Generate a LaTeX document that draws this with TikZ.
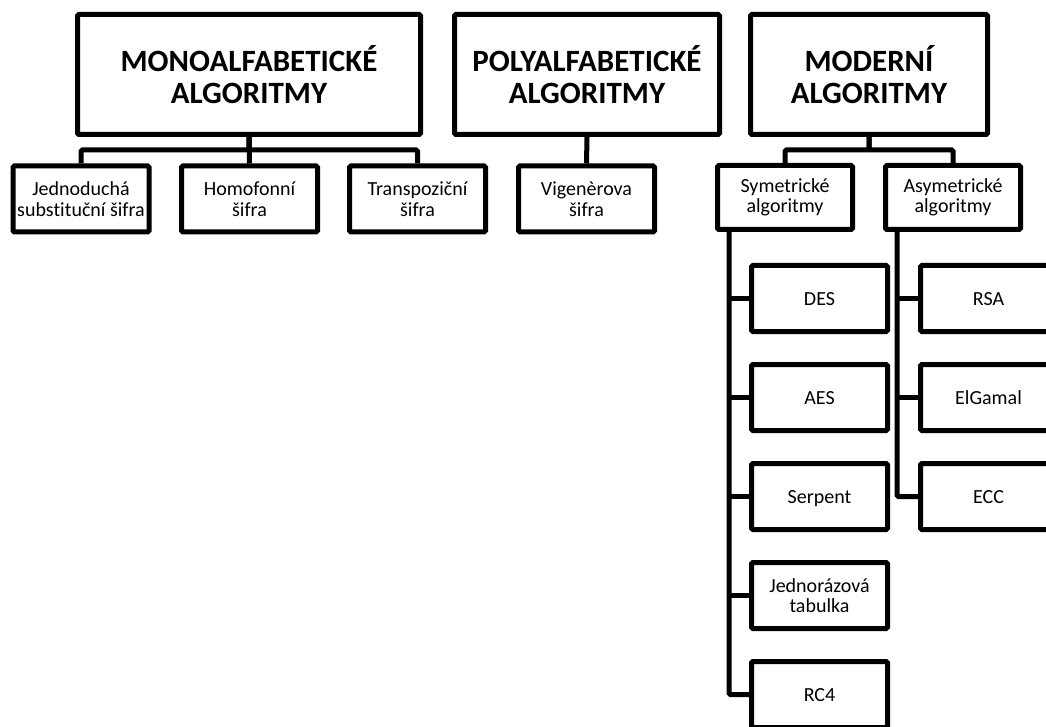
\documentclass[tikz,border=0pt]{standalone}
\usepackage{fontspec}
\setmainfont{Carlito}[Ligatures=NoCommon]
\usetikzlibrary{calc}
\begin{document}
\begin{tikzpicture}[x=1pt,y=-1pt,
  box/.style={draw=black, line width=5pt, rounded corners=1.5pt, fill=white,
    inner sep=0pt, align=center},
  topbox/.style={box, minimum width=#1, minimum height=120pt,
    font=\fontsize{31}{32}\selectfont\bfseries},
  leaf/.style={box, minimum width=136pt, minimum height=66pt,
    font=\fontsize{20}{20.5}\selectfont},
  oneline/.style={text height=13.5pt, text depth=0pt},
  link/.style={draw=black, line width=5pt, rounded corners=1.5pt}]
\useasboundingbox (0,0) rectangle (1046,727);
\clip (0,0) rectangle (1046,727);

% top level categories
\node[topbox=343pt] (mono) at (249,74.5) {MONOALFABETICKÉ\\ALGORITMY};
\node[topbox=265pt] (poly) at (587,74.5) {POLYALFABETICKÉ\\ALGORITMY};
\node[topbox=237pt] (mod)  at (869,74.5) {MODERNÍ\\ALGORITMY};

% second level
\node[leaf] (jed) at (81,199)    {Jednoduchá\\substituční šifra};
\node[leaf] (hom) at (249.5,199) {Homofonní\\šifra};
\node[leaf] (tra) at (417.5,199) {Transpoziční\\šifra};
\node[leaf] (vig) at (586.5,199) {Vigenèrova\\šifra};
\node[leaf, minimum width=135pt, minimum height=64pt] (sym)  at (785,197.5) {Symetrické\\algoritmy};
\node[leaf, minimum width=135pt, minimum height=64pt] (asym) at (953,197.5) {Asymetrické\\algoritmy};

% symmetric algorithms
\node[leaf, oneline] (des)  at (819.5,298.5) {DES};
\node[leaf, oneline] (aes)  at (819.5,397.5) {AES};
\node[leaf, oneline] (ser)  at (819.5,496.5) {Serpent};
\node[leaf] (otp)  at (819.5,595.5) {Jednorázová\\tabulka};
\node[leaf, oneline] (rc4)  at (819.5,694.5) {RC4};

% asymmetric algorithms
\node[leaf, oneline] (rsa)  at (988.5,298.5) {RSA};
\node[leaf, oneline] (elg)  at (988.5,397.5) {ElGamal};
\node[leaf, oneline] (ecc)  at (988.5,496.5) {ECC};

% elbow connectors from the categories
\draw[link] (mono.south) -- ++(0,13) -| (jed.north);
\draw[link] (mono.south) -- ++(0,13) -| (tra.north);
\draw[link] (mono.south) -- (hom.north);
\draw[link] (poly.south) -- (vig.north);
\draw[link] (mod.south) -- ++(0,13) -| (sym.north);
\draw[link] (mod.south) -- ++(0,13) -| (asym.north);

% trunks with branches to the algorithms
\coordinate (st) at ($(sym.south west)+(14,0)$);
\coordinate (at) at ($(asym.south west)+(14,0)$);
\draw[link] (st) |- (rc4.west);
\foreach \n in {des,aes,ser,otp}
  \draw[link] (\n.west) -- (\n.west -| st);
\draw[link] (at) |- (ecc.west);
\foreach \n in {rsa,elg}
  \draw[link] (\n.west) -- (\n.west -| at);
\end{tikzpicture}
\end{document}
